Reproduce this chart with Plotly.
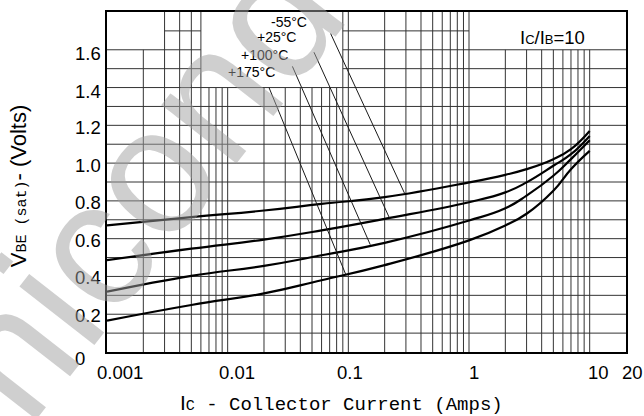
import numpy as np
import plotly.graph_objects as go

# Collector current sample points (A) and base-emitter saturation voltage (V), Ic/Ib = 10
ic = [0.001, 0.005, 0.02, 0.06, 0.2, 1, 2, 3, 5, 7, 10]
vbe_m55 = [0.670, 0.714, 0.749, 0.784, 0.820, 0.898, 0.938, 0.968, 1.021, 1.074, 1.170]
vbe_p25 = [0.486, 0.547, 0.595, 0.644, 0.705, 0.793, 0.845, 0.898, 0.986, 1.047, 1.144]
vbe_p100 = [0.319, 0.403, 0.456, 0.512, 0.578, 0.696, 0.761, 0.828, 0.933, 1.021, 1.121]
vbe_p175 = [0.166, 0.249, 0.310, 0.380, 0.460, 0.591, 0.670, 0.732, 0.854, 0.968, 1.065]
series = [vbe_m55, vbe_p25, vbe_p100, vbe_p175]

# Temperature labels with their leader lines (current A, voltage V)
temp_labels = ["-55°C", "+25°C", "+100°C", "+175°C"]
label_at = [(0.0324, 1.745), (0.0253, 1.666), (0.0203, 1.570), (0.0158, 1.482)]
leader_from = [(0.0713, 1.686), (0.0519, 1.587), (0.0344, 1.512), (0.0220, 1.400)]
leader_to = [(0.2925, 0.840), (0.220, 0.707), (0.152, 0.568), (0.095, 0.412)]

x_tick_vals = [0.001, 0.01, 0.1, 1, 10, 20]
x_tick_text = ["0.001", "0.01", "0.1", "1", "10", "20"]
x_tick_shift = [13, 9, 2, 5, 9, 6]
y_tick_vals = [0, 0.2, 0.4, 0.6, 0.8, 1.0, 1.2, 1.4, 1.6]
y_tick_text = ["0", "0.2", "0.4", "0.6", "0.8", "1.0", "1.2", "1.4", "1.6"]
y_tick_shift = [-6.5, -1, -1, -2, -2, -2.5, -2.5, -4, -4]

X_MIN, X_MAX = 0.001, 20
Y_MIN, Y_MAX = 0.0, 1.8

# Log-paper grid: vertical lines at each 1..9 step per decade; height depends on column
v_grid = [m * 10.0 ** e for e in range(-3, 1) for m in range(1, 10)][1:] + [10]
v_top_bounds = [(0.002, 1.6), (0.006, 1.8), (0.08, 1.4), (1.0, 1.8), (10.0, 1.6)]
h_grid = [round(0.1 * k, 1) for k in range(1, 18)]
h_spans = {
    1.5: [(0.001, 0.006), (0.09, 20)],
    1.6: [(0.001, 0.006), (0.09, 20)],
    1.7: [(0.003, 0.006), (0.09, 1.0)],
}

GRID = "#333333"
FONT = "Liberation Sans"
MONO = "Liberation Mono"

fig = go.Figure()

for vals in series:
    fig.add_trace(go.Scatter(
        x=ic, y=vals, mode="lines",
        line=dict(color="black", width=2.2, shape="spline", smoothing=1.3),
        showlegend=False, hoverinfo="skip",
    ))

shapes = []
for xv in v_grid:
    top = next(t for b, t in v_top_bounds if xv <= b * 1.0001)
    shapes.append(dict(type="line", xref="x", yref="y", x0=xv, x1=xv, y0=Y_MIN, y1=top,
                       line=dict(color=GRID, width=1), layer="below"))
for yv in h_grid:
    for x0, x1 in h_spans.get(yv, [(X_MIN, X_MAX)]):
        shapes.append(dict(type="line", xref="x", yref="y", x0=x0, x1=x1, y0=yv, y1=yv,
                           line=dict(color=GRID, width=1), layer="below"))
for (xa, ya), (xb, yb) in zip(leader_from, leader_to):
    shapes.append(dict(type="line", xref="x", yref="y", x0=xa, y0=ya, x1=xb, y1=yb,
                       line=dict(color="#1a1a1a", width=1)))

annotations = []
for txt, (xv, yv) in zip(temp_labels, label_at):
    annotations.append(dict(x=np.log10(xv), y=yv, xref="x", yref="y", text=txt,
                            showarrow=False, xanchor="center", yanchor="middle",
                            font=dict(family=FONT, size=14, color="black")))
for xv, txt, sh in zip(x_tick_vals, x_tick_text, x_tick_shift):
    annotations.append(dict(x=np.log10(xv), y=0, xref="x", yref="paper", text=txt,
                            showarrow=False, xanchor="center", yanchor="middle",
                            xshift=sh, yshift=-20,
                            font=dict(family=FONT, size=18.5, color="black")))
for yv, txt, sh in zip(y_tick_vals, y_tick_text, y_tick_shift):
    annotations.append(dict(x=0, y=yv, xref="paper", yref="y", text=txt,
                            showarrow=False, xanchor="left", yanchor="middle",
                            xshift=-34.5, yshift=sh,
                            font=dict(family=FONT, size=18.5, color="black")))

annotations.append(dict(
    x=0.8577, y=1.666, xref="paper", yref="y",
    text="I<span style='font-size:13px'>C</span>/I<span style='font-size:13px'>B</span>=10",
    showarrow=False, xanchor="center", yanchor="middle",
    font=dict(family=FONT, size=18.5, color="black")))

annotations.append(dict(
    x=-0.1705, y=0.489, xref="paper", yref="paper", textangle=-90,
    text=("V<span style='font-family:Liberation Mono;font-size:15px'>BE (sat)</span>"
          "- (Volts)"),
    showarrow=False, xanchor="center", yanchor="middle",
    font=dict(family=FONT, size=22, color="black")))

annotations.append(dict(
    x=0.4509, y=-0.151, xref="paper", yref="paper",
    text=("<span style='font-family:Liberation Sans;font-size:21px'>I</span>"
          "<span style='font-size:15px'>C</span> - Collector Current (Amps)"),
    showarrow=False, xanchor="center", yanchor="middle",
    font=dict(family=MONO, size=19, color="black")))

# Diagonal watermark
annotations.append(dict(
    x=0.14, y=0.64, xref="paper", yref="paper", text="Semiconductor",
    textangle=-52, showarrow=False, xanchor="center", yanchor="middle",
    font=dict(family=FONT, size=180, color="rgba(160,160,160,0.5)")))

fig.update_layout(
    width=644, height=416,
    margin=dict(l=107, r=18, t=10, b=64),
    paper_bgcolor="white", plot_bgcolor="white",
    shapes=shapes, annotations=annotations,
    xaxis=dict(type="log", range=[np.log10(X_MIN), np.log10(X_MAX)],
               showgrid=False, zeroline=False, showticklabels=False, ticks="",
               showline=True, linecolor="black", linewidth=1.5, mirror=True),
    yaxis=dict(range=[Y_MIN, Y_MAX], showgrid=False, zeroline=False,
               showticklabels=False, ticks="",
               showline=True, linecolor="black", linewidth=1.5, mirror=True),
)

fig.write_html("out.html")
